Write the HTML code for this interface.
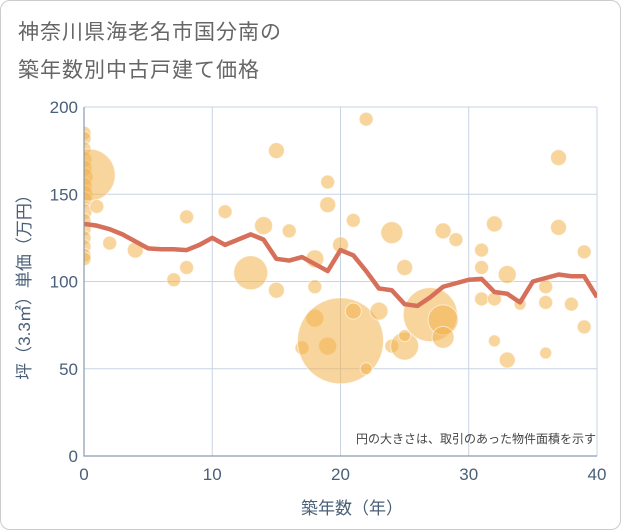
<!DOCTYPE html>
<html><head><meta charset="utf-8"><style>
body{margin:0;background:#fff;}
#wrap{position:relative;width:619px;height:528px;border:1px solid #ccc;border-radius:10px;overflow:hidden;font-family:"Liberation Sans","Noto Sans CJK JP",sans-serif;}
.title{position:absolute;left:17px;font-size:21px;color:#666;letter-spacing:1px;}
</style></head><body>
<div id="wrap">
<div class="title" style="top:15px">神奈川県海老名市国分南の</div>
<div class="title" style="top:53px">築年数別中古戸建て価格</div>
<svg id="chart" width="621" height="530" style="position:absolute;left:-1px;top:-1px"><defs><clipPath id="pc"><rect x="84" y="107" width="513" height="349"/></clipPath></defs></svg>
</div>
<script>
const xTicks=[0,10,20,30,40];
const yTicks=[0,50,100,150,200];
const bubbleX=[0,0,0,0,0,0,0,0,0,0,0,0,0,0,0,0,0.4,1,2,4,7,8,8,11,13,14,15,15,16,18,18,18,17,19,19,19,20,20,21,21,22,22,23,24,24,25,25,25,27,28,28,28,29,31,31,31,32,32,32,33,33,34,36,36,36,37,37,38,39,39];
const bubbleY=[185,182,176,170,165,160,155,150,147,140,135,130,125,120,115,113,161,143,122,118,101,137,108,140,105,132,175,95,129,113,97,79,62,157,144,63,121,66,135,83,193,50,83,128,63,108,63,69,81,78,68,129,124,118,108,90,133,66,90,104,55,87,97,88,59,171,131,87,117,74];
const bubbleR=[7,7,7,8,8,9,8,9,8,8,7,7,7,7,7,7,26,7,7,8,7,7,7,7,17,9,8,8,7,9,7,9,7,7,8,9,8,43,7,8,7,6,9,11,7,8,14,6,27,15,11,8,7,7,7,7,8,6,7,9,8,6,7,7,6,8,8,7,7,7];
const lineX=[0,1,2,3,4,5,6,7,8,9,10,11,12,13,14,15,16,17,18,19,20,21,22,23,24,25,26,27,28,29,30,31,32,33,34,35,36,37,38,39,40];
const lineY=[133,132,130,127,123,119,118.5,118.5,118,121,125,121,124,127,124,113,112,114,110,106,118,115,106,96,95,87,86,91,97,99,101,101.5,94,93,88,100,102,104,103,103,91];
const X0=84,X1=597,Y0=456,Y1=107;
const sx=v=>X0+(X1-X0)*v/40, sy=v=>Y0-(Y0-Y1)*v/200;
const svg=document.getElementById('chart'),NS='http://www.w3.org/2000/svg';
function mk(t,a,p){const e=document.createElementNS(NS,t);for(const k in a)e.setAttribute(k,a[k]);(p||svg).appendChild(e);return e;}
xTicks.forEach(t=>{const l=mk('line',{x1:sx(t),x2:sx(t),y1:Y1,y2:Y0,stroke:'#c8d4e3','stroke-width':1});

const tx=mk('text',{x:sx(t),y:Y0+24,'text-anchor':'middle','font-size':17,fill:'#4a5f78'});tx.textContent=t;
});
yTicks.forEach(t=>{const l=mk('line',{x1:X0,x2:X1,y1:sy(t),y2:sy(t),stroke:'#c8d4e3','stroke-width':1});

const tx=mk('text',{x:X0-6,y:sy(t)+6,'text-anchor':'end','font-size':17,fill:'#4a5f78'});tx.textContent=t;
});
const g=mk('g',{'clip-path':'url(#pc)'});

bubbleX.forEach((x,i)=>{const c=mk('circle',{cx:sx(x),cy:sy(bubbleY[i]),r:bubbleR[i],fill:'#f3b34c','fill-opacity':0.55,stroke:'#fff','stroke-opacity':0.6,'stroke-width':1},g);
});
const pl=mk('polyline',{points:lineX.map((x,i)=>sx(x)+','+sy(lineY[i])).join(' '),fill:'none',stroke:'#d6705a','stroke-width':4.5,'stroke-linejoin':'round'},g);

const ax=mk('path',{d:`M${X0} ${Y1}V${Y0}H${X1}`,stroke:'#8a9bb0',fill:'none','stroke-width':1.2});

const n=mk('text',{x:596,y:443,'text-anchor':'end','font-size':12,fill:'#444'});n.textContent='円の大きさは、取引のあった物件面積を示す';

const xt=mk('text',{x:352,y:514,'text-anchor':'middle','font-size':17,fill:'#4a5f78'});xt.textContent='築年数（年）';

const yt=mk('text',{x:0,y:0,'text-anchor':'middle','font-size':17,fill:'#4a5f78',transform:'translate(30,283) rotate(-90)'});yt.textContent='坪（3.3㎡）単価（万円）';

</script>
</body></html>
